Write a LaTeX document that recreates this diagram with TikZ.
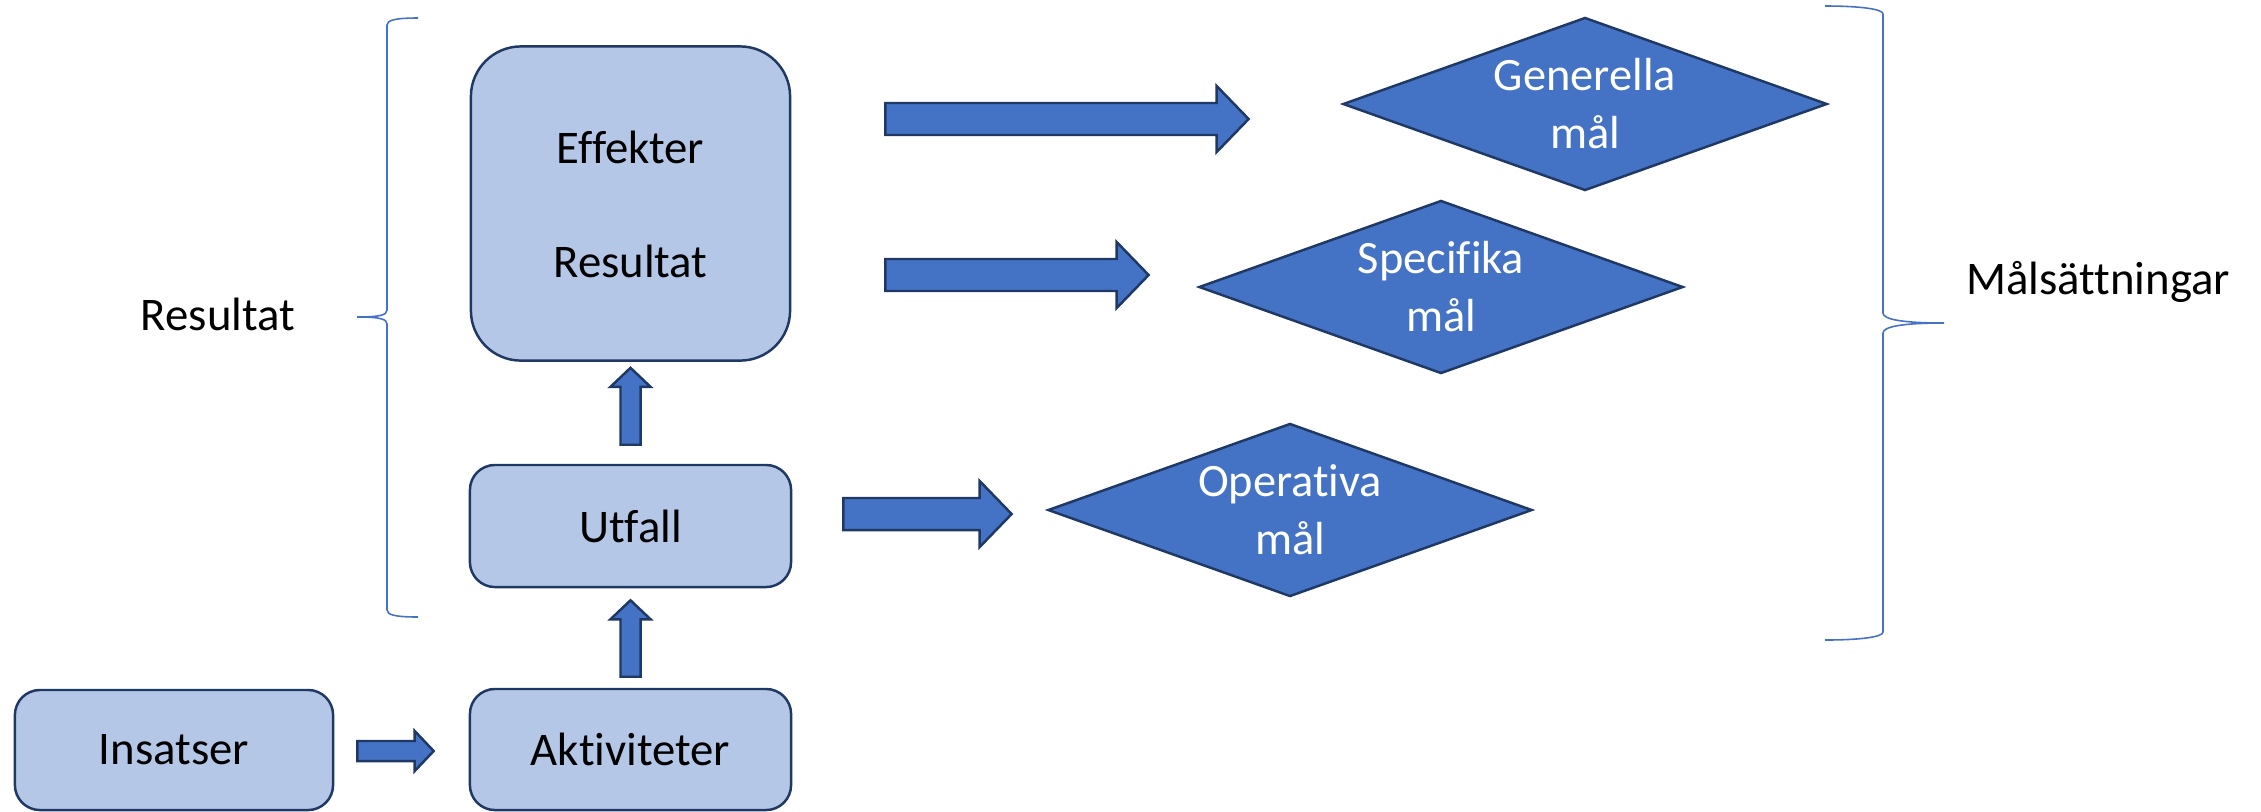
\documentclass[tikz,border=0pt]{standalone}
\usepackage{fontspec}
\setmainfont{Carlito}[Ligatures={NoCommon}]
\usetikzlibrary{shapes.geometric,calc}

\definecolor{boxfill}{HTML}{B4C7E7}
\definecolor{navy}{HTML}{1F3864}
\definecolor{accent}{HTML}{4472C4}

\tikzset{
  stage/.style={draw=navy, line width=0.7pt, fill=boxfill, rounded corners=0.25cm,
    inner sep=0pt, text=black, font=\fontsize{13.3}{16}\selectfont},
  goal/.style={diamond, draw=navy, line width=0.7pt, fill=accent, inner sep=0pt,
    aspect=2.8, minimum width=4.84cm, minimum height=1.73cm, text=white,
    align=center, font=\fontsize{13.2}{16.5}\selectfont},
  blockarrow/.style={draw=navy, line width=0.7pt, fill=accent, line join=miter},
  brace/.style={draw=accent, line width=0.45pt},
  caption/.style={inner sep=0pt, text=black, font=\fontsize{13.3}{16}\selectfont}
}

% block arrow pointing right: #1 tail, #2 tip (tip x only), #3 half shaft, #4 half head, #5 head length
\newcommand\blockright[5]{%
  \draw[blockarrow] let \p1=(#1), \p2=(#2) in
    (\x1,\y1+#3) -- (\x2-#5,\y1+#3) -- (\x2-#5,\y1+#4) -- (\x2,\y1)
    -- (\x2-#5,\y1-#4) -- (\x2-#5,\y1-#3) -- (\x1,\y1-#3) -- cycle;}
% block arrow pointing up: #1 tail, #2 tip (tip y only)
\newcommand\blockup[5]{%
  \draw[blockarrow] let \p1=(#1), \p2=(#2) in
    (\x1-#3,\y1) -- (\x1-#3,\y2-#5) -- (\x1-#4,\y2-#5) -- (\x1,\y2)
    -- (\x1+#4,\y2-#5) -- (\x1+#3,\y2-#5) -- (\x1+#3,\y1) -- cycle;}

\begin{document}
\begin{tikzpicture}[x=0.01cm, y=-0.01cm]
\useasboundingbox (0,0) rectangle (2261,811);

% stages of the chain
\node[stage, minimum width=3.19cm, minimum height=3.14cm, rounded corners=0.5cm] (eff) at (630.5,203.5) {};
\node[caption, anchor=base] (effl) at (630.5,163) {Effekter};
\node[caption, anchor=base] (resl) at (630.5,277) {Resultat};
\node[stage, minimum width=3.21cm, minimum height=1.22cm] (utf) at (630.5,526) {Utfall};
\node[stage, minimum width=3.21cm, minimum height=1.21cm] (akt) at (630.5,749.5) {Aktiviteter};
\node[stage, minimum width=3.18cm, minimum height=1.20cm] (ins) at (174,750) {Insatser};

% goals
\node[goal] (gen) at (1585,104) {Generella\\mål};
\node[goal] (spe) at (1441,287) {Specifika\\mål};
\node[goal] (ope) at (1290,510) {Operativa\\mål};

% arrow end points
\coordinate (a1s) at ($(ins.east)+(23,1)$);
\coordinate (a1e) at ($(akt.west)+(-35,0)$);
\coordinate (a2s) at ($(akt.north)+(0,-11)$);
\coordinate (a2e) at ($(utf.south)+(0,12)$);
\coordinate (a3s) at ($(utf.north)+(0,-19)$);
\coordinate (a3e) at ($(eff.south)+(0,6)$);
\coordinate (g1s) at ($(eff.east)+(94,-84.5)$);
\coordinate (g1e) at ($(gen.west)+(-93,0)$);
\coordinate (g2s) at ($(eff.east)+(94,71.5)$);
\coordinate (g2e) at ($(spe.west)+(-49,0)$);
\coordinate (g3s) at ($(utf.east)+(51,-12)$);
\coordinate (g3e) at ($(ope.west)+(-35,0)$);

% connectors
\blockright{a1s}{a1e}{2.85pt}{5.7pt}{5.4pt}
\blockup{a2s}{a2e}{2.85pt}{5.7pt}{5.4pt}
\blockup{a3s}{a3e}{2.85pt}{5.7pt}{5.4pt}
\blockright{g1s}{g1e}{4.55pt}{9.4pt}{9.1pt}
\blockright{g2s}{g2e}{4.55pt}{9.4pt}{9.1pt}
\blockright{g3s}{g3e}{4.55pt}{9.4pt}{9.1pt}

% left brace with its label
\draw[brace] (418,18) .. controls (396,18) and (387,20) .. (387,25)
  -- (387,310) .. controls (387,315) and (380,317) .. (357,317)
  .. controls (380,317) and (387,319) .. (387,324)
  -- (387,610) .. controls (387,615) and (396,617) .. (418,617);
\node[caption, anchor=base] (lres) at (218,330) {Resultat};

% right brace with its label
\draw[brace] (1825,6) .. controls (1860,6) and (1883,9) .. (1883,14)
  -- (1883,313) .. controls (1883,319) and (1900,323) .. (1944,323)
  .. controls (1900,323) and (1883,327) .. (1883,333)
  -- (1883,632) .. controls (1883,637) and (1860,640) .. (1825,640);
\node[caption, anchor=base] (lmal) at (2098,294) {Målsättningar};
\end{tikzpicture}
\end{document}
